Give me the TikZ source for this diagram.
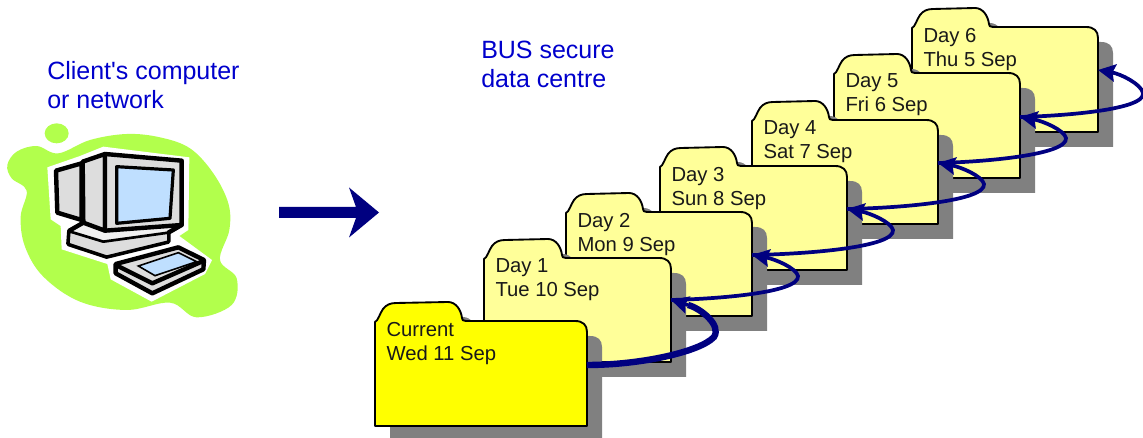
\documentclass[tikz,border=0pt]{standalone}
\usepackage{fontspec}
\setmainfont[Ligatures=TeXOff]{Liberation Sans}
\usetikzlibrary{calc,arrows.meta}
\definecolor{navyarrow}{HTML}{000080}
\definecolor{foldpale}{HTML}{FFFF99}
\definecolor{foldcur}{HTML}{FFFF00}
\definecolor{shadowgray}{HTML}{808080}
\definecolor{blob}{HTML}{B2FF4C}
\definecolor{scr}{HTML}{BFDFFF}
\definecolor{caseg}{HTML}{DDDDDD}
\definecolor{txtblue}{HTML}{0000CC}
\tikzset{
  x=0.75pt,y=-0.75pt,
  foldertext/.style={inner sep=0pt,outer sep=0pt,align=left,font=\fontsize{15.2}{18}\selectfont,text=black!90,anchor=north west},
  bluetext/.style={inner sep=0pt,align=left,anchor=north west,font=\fontsize{18.75}{21.75}\selectfont,text=txtblue},
  link/.style={draw=navyarrow,line width=2.8pt,-{Stealth[length=13pt,width=13pt,inset=2pt]}},
  pc/.style={draw=black,line width=3.3pt,line join=round},
}
\newcommand{\folderpath}[3]{% width height tabwidth
  (0,#2) -- (0,1) .. controls (3,0) and (5,-8) .. (8,-12) .. controls (11,-16) and (15,-18) .. (21,-18)
  -- ({#3-15},-19) .. controls ({#3-7},-19) and ({#3-2},-11) .. ({#3-1},-3) .. controls ({#3-1},-1) and (#3,0) .. ({#3+3},0)
  -- ({#1-12},0) .. controls ({#1-4},0) and (#1,4) .. (#1,11) -- (#1,#2) -- cycle}
\newcommand{\drawfolder}[9]{%
  \fill[shadowgray,shift={(#2+15,#3+15)}] \folderpath{#4}{#5}{#6};
  \filldraw[fill=#7,draw=black,line width=1.4pt,line join=round,shift={(#2,#3)}] \folderpath{#4}{#5}{#6};
  \node[foldertext] (#1) at (#2+11.5,#3+1) {#8\\#9};
}
\begin{document}
\begin{tikzpicture}
\useasboundingbox (0,0) rectangle (1143,438);
\clip (0,0) rectangle (1143,438);
% client computer
\node[bluetext] (clientlabel) at (47,61.5) {Client's computer\\or network};
\node[bluetext] (buslabel) at (481,41) {BUS secure\\data centre};
\begin{scope}[shift={(0,110)},x=0.25pt,y=-0.25pt]
  \fill[blob] (170,70) ellipse [x radius=36,y radius=30];
  \fill[blob] plot[smooth cycle,tension=0.6] coordinates {(175,130) (270,90) (380,72) (480,82) (570,115) (640,190) (685,280) (688,360) (660,450) (710,505) (695,585) (590,622) (510,578) (380,600) (240,575) (130,500) (75,410) (62,320) (80,242) (35,205) (22,165) (50,125) (110,108)};
  \fill[white] (142,172) -- (240,138) -- (310,110) -- (568,142) -- (565,360) -- (538,378) -- (636,450) -- (615,492) -- (455,575) -- (332,508) -- (322,462) -- (185,418) -- (182,348) -- (152,328) -- cycle;
  % base
  \filldraw[pc,fill=caseg!40] (208,362) -- (250,338) -- (545,345) -- (505,368) -- (505,395) -- (320,440) -- (205,402) -- cycle;
  \filldraw[draw=black,line width=2pt,line join=round,fill=caseg] (208,364) -- (310,395) -- (505,368) -- (505,395) -- (320,440) -- (205,402) -- cycle;
  % monitor
  \filldraw[pc,fill=caseg] (168,182) -- (245,160) -- (245,330) -- (172,308) -- cycle;
  \filldraw[pc,fill=caseg] (248,155) -- (315,132) -- (315,362) -- (250,338) -- cycle;
  \filldraw[pc,fill=caseg] (315,132) -- (545,152) -- (545,345) -- (315,362) -- cycle;
  \filldraw[draw=black,line width=2.4pt,line join=round,fill=scr] (350,170) -- (520,180) -- (510,325) -- (350,340) -- cycle;
  % keyboard
  \filldraw[pc,fill=caseg] (347,462) -- (535,412) -- (612,450) -- (610,478) -- (457,550) -- (347,490) -- cycle;
  \draw[pc] (347,465) -- (457,520) -- (612,452);
  \filldraw[draw=black,line width=1.2pt,fill=scr] (415,468) -- (535,428) -- (590,455) -- (465,497) -- cycle;
\end{scope}
% large arrow
\fill[navyarrow] (279,207) -- (356,207) -- (349,187.5) -- (379,212.5) -- (349,237.5) -- (356,218) -- (279,218) -- cycle;
% folders, back to front
\drawfolder{d6}{912}{27}{186}{105}{78}{foldpale}{Day 6}{Thu 5 Sep}
\drawfolder{d5}{834}{73}{186}{105}{78}{foldpale}{Day 5}{Fri 6 Sep}
\drawfolder{d4}{752}{120}{186}{104}{78}{foldpale}{Day 4}{Sat 7 Sep}
\drawfolder{d3}{660}{166}{187}{104}{78}{foldpale}{Day 3}{Sun 8 Sep}
\drawfolder{d2}{566}{212}{186}{104}{78}{foldpale}{Day 2}{Mon 9 Sep}
\drawfolder{d1}{484}{258}{187}{104}{79}{foldpale}{Day 1}{Tue 10 Sep}
\drawfolder{cur}{375}{321}{212}{105}{88}{foldcur}{Current}{Wed 11 Sep}
% connectors
\coordinate (pcur) at (587,365);
\coordinate (p1) at (671,300);
\coordinate (p2) at (752,255);
\coordinate (p3) at (847,209);
\coordinate (p4) at (938,163);
\coordinate (p5) at (1020,117);
\coordinate (p6) at (1098,70);
\draw[navyarrow,line width=4.8pt] (pcur) .. controls (640,365) and (700,352) .. (714,337) .. controls (722,325) and (700,308) .. (688,305);
\draw[link] (688,305) -- (p1);
\draw[link] (p1) .. controls (715,299) and (800,293) .. (798,276) .. controls (796,268) and (775,259) .. (p2);
\draw[link] (p2) .. controls (810,254) and (895,247) .. (893,230) .. controls (891,222) and (870,213) .. (p3);
\draw[link] (p3) .. controls (901,208) and (986,201) .. (984,184) .. controls (982,176) and (961,167) .. (p4);
\draw[link] (p4) .. controls (983,162) and (1068,155) .. (1066,138) .. controls (1064,130) and (1043,121) .. (p5);
\draw[link] (p5) .. controls (1061,116) and (1146,110) .. (1143,93) .. controls (1141,84) and (1121,74) .. (p6);
\end{tikzpicture}
\end{document}
